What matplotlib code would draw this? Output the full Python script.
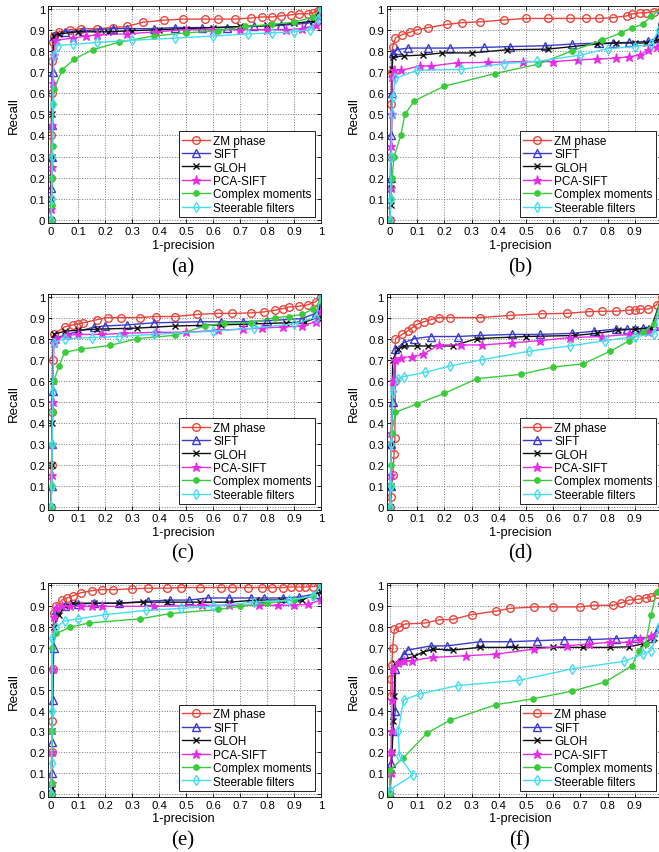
import matplotlib
matplotlib.use("Agg")
import matplotlib.pyplot as plt

plt.rcParams['font.family'] = ['Liberation Sans', 'DejaVu Sans']

series_names = ["ZM phase", "SIFT", "GLOH", "PCA-SIFT", "Complex moments", "Steerable filters"]
panel_labels = ["(a)", "(b)", "(c)", "(d)", "(e)", "(f)"]
tick_values = [0, 0.1, 0.2, 0.3, 0.4, 0.5, 0.6, 0.7, 0.8, 0.9, 1]
tick_labels = ["0", "0.1", "0.2", "0.3", "0.4", "0.5", "0.6", "0.7", "0.8", "0.9", "1"]

# ---------------- panel (a) ----------------
a_zm_x = [0, 0, 0, 0.002, 0.004, 0.006, 0.01, 0.03, 0.07, 0.11, 0.17, 0.23, 0.28, 0.34, 0.42, 0.49, 0.57, 0.62, 0.68, 0.74, 0.78, 0.82, 0.85, 0.89, 0.92, 0.95, 0.97, 0.99, 1.0]
a_zm_y = [0, 0.2, 0.4, 0.6, 0.75, 0.84, 0.87, 0.89, 0.9, 0.905, 0.905, 0.91, 0.915, 0.935, 0.945, 0.95, 0.95, 0.95, 0.95, 0.955, 0.96, 0.96, 0.965, 0.97, 0.975, 0.975, 0.98, 0.99, 1.0]
a_sift_x = [0, 0, 0.002, 0.004, 0.006, 0.01, 0.05, 0.12, 0.18, 0.23, 0.28, 0.38, 0.46, 0.56, 0.65, 0.75, 0.85, 0.95, 0.99, 1.0]
a_sift_y = [0, 0.15, 0.3, 0.45, 0.7, 0.87, 0.89, 0.895, 0.9, 0.905, 0.905, 0.905, 0.91, 0.91, 0.91, 0.915, 0.92, 0.93, 0.95, 0.99]
a_gloh_x = [0, 0, 0.002, 0.004, 0.01, 0.03, 0.1, 0.21, 0.3, 0.4, 0.5, 0.6, 0.7, 0.8, 0.9, 0.97, 1.0]
a_gloh_y = [0, 0.1, 0.3, 0.5, 0.87, 0.88, 0.89, 0.89, 0.895, 0.9, 0.905, 0.91, 0.915, 0.92, 0.93, 0.94, 1.0]
a_pca_x = [0, 0, 0.002, 0.004, 0.006, 0.01, 0.02, 0.08, 0.13, 0.17, 0.28, 0.39, 0.5, 0.6, 0.7, 0.8, 0.87, 0.93, 0.98, 1.0]
a_pca_y = [0, 0.05, 0.25, 0.45, 0.65, 0.78, 0.85, 0.86, 0.87, 0.875, 0.88, 0.89, 0.9, 0.9, 0.9, 0.9, 0.9, 0.905, 0.92, 0.97]
a_cm_x = [0, 0.002, 0.004, 0.006, 0.008, 0.011, 0.042, 0.085, 0.154, 0.25, 0.38, 0.5, 0.62, 0.72, 0.82, 0.9, 0.97, 1.0]
a_cm_y = [0, 0.07, 0.2, 0.35, 0.55, 0.62, 0.71, 0.76, 0.805, 0.84, 0.87, 0.885, 0.895, 0.915, 0.925, 0.935, 0.96, 1.0]
a_sf_x = [0, 0.002, 0.004, 0.006, 0.01, 0.024, 0.08, 0.17, 0.3, 0.46, 0.6, 0.73, 0.82, 0.9, 0.96, 0.99, 1.0]
a_sf_y = [0, 0.1, 0.3, 0.55, 0.78, 0.825, 0.83, 0.84, 0.85, 0.86, 0.87, 0.88, 0.885, 0.89, 0.9, 0.95, 1.0]

# ---------------- panel (b) ----------------
b_zm_x = [0, 0.002, 0.004, 0.006, 0.01, 0.02, 0.045, 0.075, 0.1, 0.14, 0.21, 0.265, 0.33, 0.42, 0.5, 0.58, 0.66, 0.72, 0.77, 0.82, 0.87, 0.89, 0.92, 0.94, 0.97, 1.0]
b_zm_y = [0, 0.3, 0.55, 0.7, 0.82, 0.86, 0.877, 0.888, 0.9, 0.91, 0.925, 0.933, 0.937, 0.946, 0.953, 0.953, 0.953, 0.953, 0.953, 0.957, 0.965, 0.974, 0.98, 0.98, 0.985, 1.0]
b_sift_x = [0, 0.002, 0.004, 0.006, 0.01, 0.025, 0.065, 0.14, 0.22, 0.345, 0.44, 0.57, 0.67, 0.77, 0.82, 0.88, 0.95, 0.98, 1.0]
b_sift_y = [0, 0.2, 0.4, 0.6, 0.79, 0.805, 0.813, 0.813, 0.813, 0.816, 0.82, 0.824, 0.832, 0.837, 0.837, 0.84, 0.845, 0.86, 1.0]
b_gloh_x = [0, 0.002, 0.004, 0.008, 0.01, 0.05, 0.12, 0.19, 0.3, 0.43, 0.58, 0.76, 0.83, 0.9, 0.94, 0.98, 1.0]
b_gloh_y = [0, 0.07, 0.15, 0.715, 0.77, 0.776, 0.78, 0.79, 0.79, 0.805, 0.808, 0.832, 0.837, 0.837, 0.837, 0.85, 1.0]
b_pca_x = [0, 0.002, 0.004, 0.006, 0.008, 0.015, 0.04, 0.11, 0.15, 0.25, 0.36, 0.49, 0.6, 0.69, 0.76, 0.83, 0.88, 0.92, 0.95, 0.98, 1.0]
b_pca_y = [0, 0.15, 0.35, 0.5, 0.676, 0.71, 0.708, 0.728, 0.728, 0.744, 0.745, 0.749, 0.749, 0.757, 0.761, 0.765, 0.772, 0.78, 0.805, 0.82, 0.84]
b_cm_x = [0, 0.004, 0.008, 0.015, 0.04, 0.055, 0.09, 0.2, 0.385, 0.545, 0.67, 0.78, 0.85, 0.89, 0.93, 0.96, 1.0]
b_cm_y = [0, 0.1, 0.2, 0.3, 0.4, 0.5, 0.564, 0.633, 0.692, 0.737, 0.8, 0.85, 0.885, 0.91, 0.925, 0.965, 1.0]
b_sf_x = [0, 0.002, 0.004, 0.006, 0.01, 0.02, 0.1, 0.26, 0.42, 0.54, 0.7, 0.8, 0.9, 0.96, 0.99, 1.0]
b_sf_y = [0, 0.1, 0.3, 0.5, 0.58, 0.67, 0.708, 0.712, 0.74, 0.75, 0.78, 0.81, 0.82, 0.83, 0.9, 1.0]

# ---------------- panel (c) ----------------
c_zm_x = [0, 0.002, 0.004, 0.006, 0.01, 0.05, 0.08, 0.1, 0.12, 0.17, 0.21, 0.26, 0.33, 0.39, 0.46, 0.54, 0.62, 0.67, 0.74, 0.79, 0.83, 0.86, 0.88, 0.92, 0.95, 0.98, 1.0]
c_zm_y = [0, 0.2, 0.45, 0.7, 0.82, 0.856, 0.865, 0.87, 0.875, 0.89, 0.9, 0.9, 0.9, 0.905, 0.905, 0.915, 0.92, 0.92, 0.922, 0.927, 0.935, 0.943, 0.95, 0.954, 0.96, 0.975, 1.0]
c_sift_x = [0, 0.002, 0.004, 0.006, 0.01, 0.06, 0.16, 0.2, 0.28, 0.38, 0.55, 0.63, 0.71, 0.8, 0.93, 0.98, 1.0]
c_sift_y = [0, 0.1, 0.3, 0.55, 0.8, 0.82, 0.855, 0.86, 0.865, 0.875, 0.88, 0.88, 0.88, 0.885, 0.895, 0.92, 0.97]
c_gloh_x = [0, 0.002, 0.004, 0.006, 0.01, 0.05, 0.1, 0.17, 0.32, 0.46, 0.63, 0.75, 0.87, 0.94, 0.99, 1.0]
c_gloh_y = [0, 0.2, 0.4, 0.6, 0.82, 0.835, 0.84, 0.845, 0.85, 0.86, 0.865, 0.87, 0.875, 0.88, 0.9, 1.0]
c_pca_x = [0, 0.002, 0.004, 0.006, 0.01, 0.02, 0.06, 0.1, 0.19, 0.27, 0.39, 0.5, 0.62, 0.71, 0.78, 0.86, 0.93, 0.98, 1.0]
c_pca_y = [0, 0.15, 0.3, 0.5, 0.78, 0.8, 0.815, 0.82, 0.82, 0.825, 0.83, 0.83, 0.84, 0.845, 0.85, 0.855, 0.86, 0.88, 0.93]
c_cm_x = [0, 0.002, 0.004, 0.006, 0.01, 0.03, 0.05, 0.11, 0.22, 0.32, 0.46, 0.57, 0.64, 0.74, 0.83, 0.88, 0.93, 0.97, 1.0]
c_cm_y = [0, 0.1, 0.3, 0.45, 0.6, 0.67, 0.735, 0.75, 0.768, 0.8, 0.816, 0.86, 0.873, 0.875, 0.9, 0.905, 0.915, 0.94, 0.98]
c_sf_x = [0, 0.002, 0.004, 0.006, 0.01, 0.05, 0.15, 0.25, 0.38, 0.6, 0.75, 0.9, 0.98, 1.0]
c_sf_y = [0, 0.1, 0.3, 0.55, 0.78, 0.8, 0.805, 0.81, 0.82, 0.835, 0.85, 0.87, 0.9, 1.0]

# ---------------- panel (d) ----------------
d_zm_x = [0, 0.005, 0.01, 0.015, 0.018, 0.02, 0.02, 0.045, 0.065, 0.08, 0.1, 0.125, 0.15, 0.18, 0.22, 0.33, 0.44, 0.56, 0.65, 0.73, 0.78, 0.83, 0.88, 0.9, 0.92, 0.95, 0.98, 1.0]
d_zm_y = [0, 0.05, 0.15, 0.25, 0.33, 0.6, 0.8, 0.82, 0.836, 0.85, 0.868, 0.88, 0.89, 0.9, 0.9, 0.9, 0.91, 0.918, 0.92, 0.928, 0.93, 0.93, 0.935, 0.937, 0.94, 0.94, 0.96, 1.0]
d_sift_x = [0, 0.002, 0.005, 0.01, 0.02, 0.05, 0.09, 0.15, 0.25, 0.33, 0.45, 0.55, 0.67, 0.75, 0.83, 0.87, 0.9, 0.93, 0.97, 1.0]
d_sift_y = [0, 0.1, 0.3, 0.5, 0.75, 0.78, 0.8, 0.81, 0.81, 0.815, 0.82, 0.82, 0.825, 0.835, 0.845, 0.845, 0.845, 0.85, 0.86, 0.95]
d_gloh_x = [0, 0.002, 0.005, 0.01, 0.03, 0.05, 0.1, 0.14, 0.23, 0.32, 0.5, 0.68, 0.76, 0.84, 0.9, 0.96, 1.0]
d_gloh_y = [0, 0.1, 0.3, 0.7, 0.75, 0.765, 0.765, 0.765, 0.765, 0.8, 0.81, 0.815, 0.825, 0.84, 0.845, 0.85, 1.0]
d_pca_x = [0, 0.002, 0.005, 0.01, 0.02, 0.04, 0.08, 0.12, 0.18, 0.26, 0.34, 0.45, 0.55, 0.66, 0.78, 0.88, 0.95, 1.0]
d_pca_y = [0, 0.15, 0.35, 0.6, 0.7, 0.71, 0.715, 0.725, 0.77, 0.77, 0.77, 0.78, 0.79, 0.805, 0.81, 0.82, 0.83, 0.85]
d_cm_x = [0, 0.002, 0.004, 0.006, 0.02, 0.1, 0.2, 0.32, 0.48, 0.6, 0.71, 0.81, 0.88, 0.93, 0.97, 1.0]
d_cm_y = [0, 0.1, 0.2, 0.35, 0.45, 0.49, 0.54, 0.61, 0.63, 0.665, 0.68, 0.74, 0.79, 0.83, 0.87, 1.0]
d_sf_x = [0, 0.002, 0.005, 0.01, 0.03, 0.05, 0.13, 0.22, 0.34, 0.51, 0.66, 0.79, 0.9, 0.97, 1.0]
d_sf_y = [0, 0.1, 0.3, 0.55, 0.61, 0.62, 0.64, 0.67, 0.7, 0.74, 0.765, 0.79, 0.81, 0.82, 1.0]

# ---------------- panel (e) ----------------
e_zm_x = [0, 0.002, 0.004, 0.006, 0.01, 0.02, 0.04, 0.06, 0.08, 0.11, 0.15, 0.19, 0.23, 0.3, 0.36, 0.43, 0.48, 0.55, 0.63, 0.67, 0.73, 0.78, 0.82, 0.86, 0.89, 0.92, 0.94, 0.97, 1.0]
e_zm_y = [0, 0.2, 0.35, 0.6, 0.87, 0.9, 0.93, 0.94, 0.95, 0.965, 0.975, 0.98, 0.98, 0.984, 0.987, 0.987, 0.99, 0.99, 0.99, 0.99, 0.99, 0.99, 0.99, 0.99, 0.993, 0.993, 0.993, 0.995, 1.0]
e_sift_x = [0, 0.002, 0.004, 0.006, 0.01, 0.02, 0.05, 0.1, 0.16, 0.25, 0.36, 0.44, 0.51, 0.58, 0.66, 0.74, 0.79, 0.86, 0.92, 0.98, 1.0]
e_sift_y = [0, 0.1, 0.25, 0.45, 0.7, 0.88, 0.9, 0.91, 0.915, 0.915, 0.925, 0.93, 0.93, 0.94, 0.94, 0.94, 0.94, 0.94, 0.945, 0.96, 1.0]
e_gloh_x = [0, 0.002, 0.004, 0.01, 0.03, 0.05, 0.08, 0.16, 0.25, 0.34, 0.43, 0.55, 0.66, 0.76, 0.85, 0.93, 1.0]
e_gloh_y = [0, 0.03, 0.3, 0.8, 0.86, 0.9, 0.915, 0.915, 0.915, 0.92, 0.92, 0.92, 0.92, 0.93, 0.93, 0.93, 0.97]
e_pca_x = [0, 0.002, 0.004, 0.006, 0.01, 0.02, 0.04, 0.07, 0.11, 0.15, 0.19, 0.38, 0.56, 0.66, 0.77, 0.84, 0.9, 0.95, 1.0]
e_pca_y = [0, 0.05, 0.2, 0.6, 0.85, 0.89, 0.9, 0.9, 0.9, 0.9, 0.9, 0.9, 0.905, 0.905, 0.905, 0.905, 0.905, 0.91, 0.93]
e_cm_x = [0, 0.002, 0.004, 0.005, 0.02, 0.07, 0.14, 0.33, 0.44, 0.62, 0.7, 0.8, 0.9, 0.97, 1.0]
e_cm_y = [0, 0.05, 0.3, 0.7, 0.77, 0.8, 0.82, 0.84, 0.865, 0.885, 0.9, 0.915, 0.93, 0.95, 1.0]
e_sf_x = [0, 0.002, 0.004, 0.005, 0.02, 0.05, 0.1, 0.2, 0.35, 0.48, 0.6, 0.75, 0.88, 0.97, 1.0]
e_sf_y = [0, 0.15, 0.4, 0.75, 0.8, 0.83, 0.84, 0.86, 0.88, 0.89, 0.9, 0.92, 0.93, 0.95, 1.0]

# ---------------- panel (f) ----------------
f_zm_x = [0.003, 0.004, 0.007, 0.01, 0.016, 0.035, 0.055, 0.13, 0.18, 0.23, 0.3, 0.39, 0.44, 0.53, 0.6, 0.7, 0.75, 0.82, 0.85, 0.88, 0.91, 0.94, 0.96, 0.98, 1.0]
f_zm_y = [0.47, 0.55, 0.62, 0.7, 0.79, 0.8, 0.815, 0.82, 0.835, 0.837, 0.86, 0.877, 0.89, 0.897, 0.897, 0.897, 0.905, 0.905, 0.916, 0.93, 0.933, 0.94, 0.946, 0.96, 1.0]
f_sift_x = [0, 0.005, 0.01, 0.02, 0.02, 0.05, 0.065, 0.15, 0.21, 0.33, 0.44, 0.54, 0.64, 0.73, 0.83, 0.9, 0.96, 0.99, 1.0]
f_sift_y = [0, 0.15, 0.3, 0.4, 0.6, 0.67, 0.69, 0.71, 0.71, 0.73, 0.73, 0.735, 0.74, 0.74, 0.745, 0.75, 0.75, 0.8, 0.93]
f_gloh_x = [0, 0.004, 0.008, 0.012, 0.015, 0.02, 0.04, 0.09, 0.12, 0.16, 0.23, 0.33, 0.46, 0.6, 0.71, 0.81, 0.88, 0.93, 0.97, 1.0]
f_gloh_y = [0, 0.1, 0.2, 0.35, 0.47, 0.63, 0.64, 0.66, 0.68, 0.695, 0.69, 0.703, 0.703, 0.703, 0.703, 0.703, 0.706, 0.72, 0.75, 0.8]
f_pca_x = [0, 0.002, 0.004, 0.006, 0.008, 0.01, 0.03, 0.05, 0.08, 0.16, 0.28, 0.39, 0.53, 0.65, 0.73, 0.81, 0.88, 0.92, 0.96, 1.0]
f_pca_y = [0, 0.1, 0.2, 0.3, 0.45, 0.6, 0.63, 0.636, 0.64, 0.655, 0.663, 0.67, 0.695, 0.71, 0.72, 0.727, 0.727, 0.742, 0.758, 0.78]
f_cm_x = [0, 0.0, 0.047, 0.135, 0.22, 0.39, 0.525, 0.67, 0.79, 0.89, 0.915, 0.94, 0.96, 0.98, 1.0]
f_cm_y = [0, 0.115, 0.17, 0.29, 0.353, 0.428, 0.456, 0.493, 0.536, 0.615, 0.687, 0.72, 0.86, 0.97, 1.0]
f_sf_x = [0, 0.084, 0.035, 0.03, 0.05, 0.11, 0.25, 0.475, 0.67, 0.86, 0.93, 0.96, 0.99, 1.0]
f_sf_y = [0.02, 0.09, 0.18, 0.3, 0.45, 0.48, 0.52, 0.545, 0.6, 0.636, 0.67, 0.687, 0.8, 0.95]

panels = [
    [(a_zm_x, a_zm_y), (a_sift_x, a_sift_y), (a_gloh_x, a_gloh_y), (a_pca_x, a_pca_y), (a_cm_x, a_cm_y), (a_sf_x, a_sf_y)],
    [(b_zm_x, b_zm_y), (b_sift_x, b_sift_y), (b_gloh_x, b_gloh_y), (b_pca_x, b_pca_y), (b_cm_x, b_cm_y), (b_sf_x, b_sf_y)],
    [(c_zm_x, c_zm_y), (c_sift_x, c_sift_y), (c_gloh_x, c_gloh_y), (c_pca_x, c_pca_y), (c_cm_x, c_cm_y), (c_sf_x, c_sf_y)],
    [(d_zm_x, d_zm_y), (d_sift_x, d_sift_y), (d_gloh_x, d_gloh_y), (d_pca_x, d_pca_y), (d_cm_x, d_cm_y), (d_sf_x, d_sf_y)],
    [(e_zm_x, e_zm_y), (e_sift_x, e_sift_y), (e_gloh_x, e_gloh_y), (e_pca_x, e_pca_y), (e_cm_x, e_cm_y), (e_sf_x, e_sf_y)],
    [(f_zm_x, f_zm_y), (f_sift_x, f_sift_y), (f_gloh_x, f_gloh_y), (f_pca_x, f_pca_y), (f_cm_x, f_cm_y), (f_sf_x, f_sf_y)],
]

styles = [
    dict(color='#e8463c', marker='o', mfc='none', ms=5.5, mew=1.0),
    dict(color='#3b3bd0', marker='^', mfc='none', ms=5.5, mew=1.0),
    dict(color='#111111', marker='x', mfc='none', ms=4.5, mew=1.0),
    dict(color='#e62ee6', marker='*', mfc='#e62ee6', ms=6.5, mew=0.8),
    dict(color='#3acb3a', marker='o', mfc='#3acb3a', ms=4.0, mew=0.8),
    dict(color='#45dcf0', marker='d', mfc='none', ms=5.5, mew=1.0),
]

W, H = 659, 853
fig = plt.figure(figsize=(W / 100, H / 100), dpi=100)

# pixel boxes: (left, right, top, bottom)
col_lr = [(47.8, 321.0), (386.7, 662.0)]
row_tb = [(7.4, 224.2), (295.4, 511.2), (584.4, 798.0)]
col_text_x = [183, 520]
row_xlabel_y = [246, 533, 819]
row_caption_y = [268, 554, 841]
ylabel_x = [14, 354]

for i, data in enumerate(panels):
    r, c = i // 2, i % 2
    l, rr = col_lr[c]
    t, b = row_tb[r]
    ax = fig.add_axes([l / W, 1 - b / H, (rr - l) / W, (b - t) / H])
    for (xs, ys), st, name in zip(data, styles, series_names):
        ax.plot(xs, ys, lw=1.0, label=name, clip_on=True, **st)
    ax.set_xlim(-0.012, 1.0)
    ax.set_ylim(-0.015, 1.01)
    ax.set_xticks(tick_values)
    ax.set_xticklabels(tick_labels)
    ax.set_yticks(tick_values)
    ax.set_yticklabels(tick_labels)
    ax.tick_params(direction='in', length=3, width=0.6, labelsize=8.2, pad=2,
                   top=True, right=True)
    ax.grid(True, ls=':', color='#7a7a7a', lw=0.7)
    for sp in ax.spines.values():
        sp.set_linewidth(0.7)
        sp.set_color('#222222')
    leg = ax.legend(loc='lower right', fontsize=8.5, numpoints=1, handlelength=2.3,
                    labelspacing=0.12, handletextpad=0.3, borderpad=0.3,
                    borderaxespad=0.5, fancybox=False, framealpha=1,
                    edgecolor='#222222')
    leg.get_frame().set_linewidth(0.7)
    cy = (t + b) / 2
    fig.text(ylabel_x[c] / W, 1 - cy / H, "Recall", rotation=90, fontsize=9.5,
             ha='center', va='center')
    fig.text(col_text_x[c] / W, 1 - row_xlabel_y[r] / H, "1-precision", fontsize=9.2,
             ha='center', va='center')
    fig.text(col_text_x[c] / W, 1 - row_caption_y[r] / H, panel_labels[i],
             fontsize=15, ha='center', va='center', family=['Liberation Serif', 'DejaVu Serif'])

fig.savefig("out.png", dpi=100)
